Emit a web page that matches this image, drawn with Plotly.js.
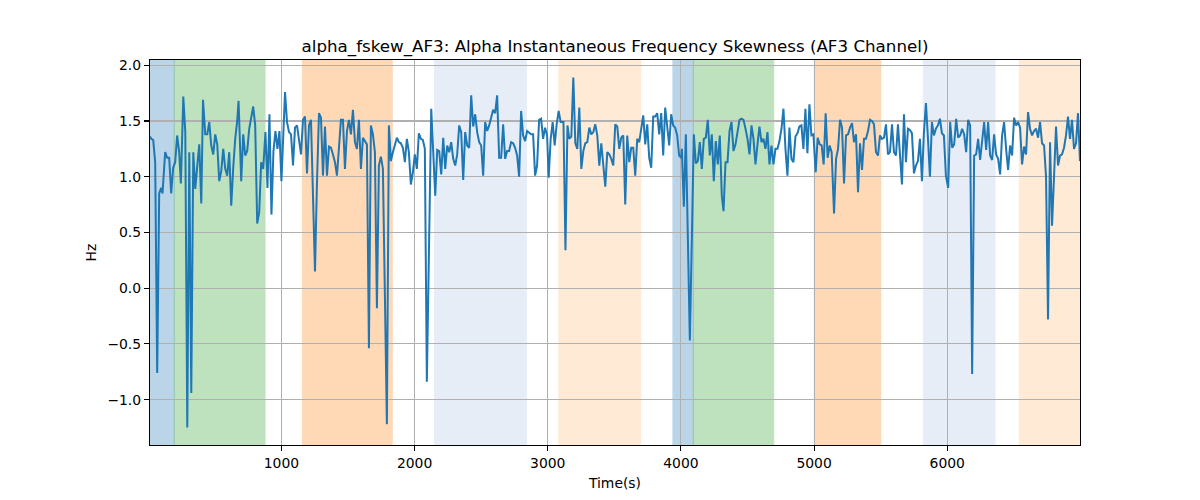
<!DOCTYPE html>
<html>
<head>
<meta charset="utf-8">
<script src="https://cdn.plot.ly/plotly-3.0.1.min.js"></script>
<style>html,body{margin:0;padding:0;background:#fff}#chart{width:1200px;height:500px}</style>
</head>
<body>
<div id="chart"></div>
<script>
var timeSec = [13,22,37,52,67,82,97,107,127,142,157,172,187,202,217,232,245,263,278,293,308,323,338,353,368,383,398,411,428,443,458,473,488,503,518,533,548,563,578,593,608,623,638,653,668,678,698,713,728,743,758,773,788,803,818,833,848,863,880,895,910,925,940,955,970,985,1000,
1027,1042,1057,1072,1087,1102,1117,1132,1147,1162,1177,1192,1207,1222,1237,1252,1267,1282,1297,1312,1327,1342,1357,1372,1387,1402,1417,1432,1447,1462,1477,1492,1507,1522,1537,1552,1567,1582,1597,1612,1627,1642,1657,1672,1687,1702,1717,1732,1747,1762,1777,1792,1807,1822,1837,1852,1867,1882,1897,1912,1927,1942,1957,1972,1987,2002,
2017,2032,2047,2062,2077,2092,2125,2140,2155,2170,2185,2200,2215,2230,2245,2260,2275,2290,2305,2320,2335,2350,2365,2380,2395,2410,2425,2440,2455,2470,2485,2500,2515,2530,2545,2560,2575,2590,2605,2620,2635,2650,2665,2680,2695,2710,2725,2740,2755,2770,2785,2800,2815,2830,2845,2860,2875,2890,2905,2920,2935,2950,2965,2980,2995,
3007,3022,3037,3052,3067,3082,3097,3118,3133,3148,3162,3177,3192,3207,3222,3237,3252,3267,3282,3297,3312,3327,3342,3357,3372,3387,3402,3417,3432,3447,3462,3477,3492,3507,3522,3537,3552,3567,3582,3597,3612,3627,3642,3657,3672,3687,3702,3717,3732,3747,3762,3777,3792,3807,3822,3837,3852,3867,3882,3897,3912,3927,3942,3957,3972,3987,4002,
4007,4022,4037,4052,4067,4082,4097,4112,4127,4142,4157,4172,4187,4202,4217,4232,4247,4262,4277,4292,4307,4320,4335,4350,4365,4380,4395,4410,4425,4440,4455,4470,4485,4500,4515,4530,4545,4560,4575,4590,4605,4620,4635,4650,4665,4680,4695,4710,4725,4740,4755,4770,4785,4800,4815,4830,4845,4860,4875,4890,4905,4920,4935,4950,4965,4980,4995,
5012,5027,5042,5057,5072,5087,5102,5117,5132,5150,5165,5180,5195,5210,5225,5240,5255,5270,5285,5300,5315,5330,5345,5360,5375,5390,5405,5420,5435,5450,5465,5480,5495,5510,5525,5540,5555,5570,5585,5600,5615,5630,5645,5660,5675,5690,5705,5720,5735,5750,5765,5780,5795,5810,5825,5840,5855,5870,5885,5900,5915,5930,5945,5960,5975,5990,
6007,6022,6037,6052,6067,6082,6097,6112,6127,6142,6157,6172,6187,6202,6217,6232,6247,6262,6277,6292,6307,6322,6337,6352,6367,6382,6397,6412,6427,6442,6457,6472,6487,6502,6517,6532,6547,6562,6577,6592,6607,6622,6637,6652,6667,6682,6697,6712,6727,6742,6757,6772,6787,6802,6817,6832,6847,6862,6877,6892,6907,6922,6937,6952,6967,6982,6997];

var fskewHz = [1.36,1.34,1.33,1.13,-0.76,0.85,0.90,0.85,1.22,1.17,1.17,0.85,1.08,1.13,1.37,1.22,0.94,1.72,1.40,-1.25,1.22,-0.94,1.22,0.89,1.10,1.29,0.76,1.69,1.38,1.38,1.49,1.28,1.20,1.38,1.29,0.96,1.05,1.25,1.07,1.01,1.22,0.74,1.08,1.34,1.50,1.68,0.96,1.38,1.19,1.23,1.43,1.54,1.63,1.46,0.58,0.68,1.13,1.07,1.40,0.90,1.56,0.66,1.23,1.41,1.25,1.41,0.96,
1.76,1.49,1.40,1.38,1.10,1.44,1.46,1.32,1.20,1.51,1.54,1.03,1.46,1.51,0.89,0.15,0.95,1.57,1.53,1.01,1.45,1.01,1.27,1.26,1.20,1.13,1.01,1.26,1.51,1.51,1.07,1.41,1.51,1.38,1.60,1.31,1.25,1.51,1.07,1.35,1.32,1.29,-0.54,1.46,1.38,1.22,-0.18,1.10,1.18,1.07,-0.07,-1.22,1.46,1.14,1.22,1.29,1.35,1.31,1.30,1.26,1.13,1.34,1.22,0.93,1.04,1.20,
1.07,1.39,1.34,1.33,1.25,-0.84,1.61,1.22,0.83,1.24,1.23,1.02,1.35,1.07,1.28,1.22,1.31,1.16,1.10,1.20,1.46,1.40,0.97,1.40,1.28,1.26,1.73,1.45,1.56,1.40,1.31,1.28,1.01,1.49,1.41,1.46,1.53,1.60,1.57,1.73,1.17,1.17,1.47,1.16,1.23,1.23,1.31,1.30,1.26,1.19,1.00,1.59,1.37,1.32,1.41,1.39,1.38,1.38,1.01,1.10,1.51,1.52,1.34,1.44,1.37,
0.99,1.34,1.49,1.28,1.47,1.59,1.49,1.49,0.34,1.46,1.34,1.36,1.89,1.30,1.25,1.62,1.07,1.23,1.30,1.31,1.44,1.38,1.40,1.47,1.37,1.10,1.30,1.11,0.91,1.22,1.20,1.16,1.10,1.47,1.45,1.25,1.35,1.37,0.75,1.37,1.13,1.26,1.26,1.01,1.34,1.31,1.44,1.55,1.29,1.47,1.17,1.08,1.54,1.54,1.57,1.38,1.57,1.19,1.62,1.43,1.28,1.56,1.46,1.44,1.37,1.19,1.17,
1.25,0.73,1.38,0.41,-0.47,0.44,1.38,1.12,1.14,1.31,1.07,1.34,1.35,1.51,1.19,1.38,0.96,1.32,1.11,1.37,0.83,0.69,1.13,1.13,1.41,1.49,1.23,1.29,1.40,1.51,1.52,1.51,1.43,1.34,1.20,1.46,1.34,1.11,1.29,1.45,1.31,1.34,1.25,1.40,1.11,1.28,1.11,1.25,1.25,1.32,1.43,1.61,1.25,1.01,1.44,1.16,1.13,1.36,1.39,1.45,1.46,1.25,1.61,1.21,1.65,1.37,1.38,
1.04,1.35,1.29,1.28,1.11,1.57,1.17,1.28,1.22,0.67,1.16,1.25,1.51,1.44,0.94,1.37,1.38,1.44,1.48,1.31,1.38,0.86,1.30,1.06,1.34,1.34,1.41,1.51,1.50,1.47,1.22,1.19,1.37,1.34,1.35,1.47,1.20,1.22,1.47,1.22,1.19,1.47,1.22,0.93,1.56,1.13,1.43,1.42,1.39,1.03,1.10,1.14,1.34,0.96,1.40,1.66,1.35,1.00,1.49,1.37,1.43,1.46,1.52,1.39,1.37,1.01,
0.90,1.49,1.26,1.29,1.52,1.35,1.37,1.43,1.38,1.22,1.51,1.46,-0.77,1.19,1.20,1.34,1.15,1.35,1.49,1.24,1.49,1.19,1.15,1.38,1.20,1.16,1.02,1.37,1.49,1.25,1.06,1.28,1.19,1.53,1.46,1.49,1.44,1.11,1.27,1.20,1.58,1.43,1.37,1.41,1.43,1.35,1.49,1.30,1.28,1.00,-0.28,1.31,0.56,1.00,1.45,1.10,1.19,1.20,1.26,1.37,1.54,1.34,1.51,1.25,1.30,1.57,1.14];

var regionStart = [13, 195, 1158, 2150, 3083, 3940, 4093, 5002, 5820, 6541];
var regionEnd   = [195, 877, 1832, 2840, 3697, 4093, 4697, 5501, 6359, 6997];
var regionColor = ['#1f77b4','#2ca02c','#ff7f0e','#aec7e8','#ffbb78','#1f77b4','#2ca02c','#ff7f0e','#aec7e8','#ffbb78'];

var shapes = regionStart.map(function(s, i) {
  return {type:'rect', xref:'x', yref:'paper', x0:s, x1:regionEnd[i], y0:0, y1:1,
          fillcolor:regionColor[i], opacity:0.3, line:{width:1, color:regionColor[i]}, layer:'below'};
});

var trace = {x: timeSec, y: fskewHz, type:'scatter', mode:'lines',
  line:{color:'#1f77b4', width:2}, hoverinfo:'x+y'};

var font = {family:'DejaVu Sans, sans-serif', color:'#000'};
var layout = {
  width:1200, height:500,
  margin:{l:150, r:120, t:60, b:55},
  paper_bgcolor:'#fff', plot_bgcolor:'rgba(0,0,0,0)',
  showlegend:false,
  font:{family:'DejaVu Sans, sans-serif', size:14, color:'#000'},
  title:{text:'alpha_fskew_AF3: Alpha Instantaneous Frequency Skewness (AF3 Channel)',
         font:{family:font.family, size:16.7, color:'#000'}, xref:'paper', x:0.5, xanchor:'center', y:0.908, yanchor:'middle'},
  xaxis:{range:[13, 6997], dtick:1000, tick0:0, showgrid:true, gridcolor:'#b0b0b0', gridwidth:1.1,
         zeroline:false, showline:true, linecolor:'#000', linewidth:1.1, mirror:true,
         ticks:'outside', ticklen:5, tickwidth:1.1, tickcolor:'#000',
         tickfont:{family:font.family, size:13.9, color:'#000'},
         title:{text:'Time(s)', font:{family:font.family, size:13.9, color:'#000'}, standoff:8}},
  yaxis:{range:[-1.407, 2.047], dtick:0.5, tick0:0, tickformat:'.1f', showgrid:true, gridcolor:'#b0b0b0', gridwidth:1.1,
         zeroline:false, showline:true, linecolor:'#000', linewidth:1.1, mirror:true,
         ticks:'outside', ticklen:5, tickwidth:1.1, tickcolor:'#000',
         tickfont:{family:font.family, size:13.9, color:'#000'},
         title:{text:'Hz', font:{family:font.family, size:13.9, color:'#000'}, standoff:7}},
  shapes: shapes
};

Plotly.newPlot('chart', [trace], layout, {displayModeBar:false, staticPlot:true});
</script>
</body>
</html>
